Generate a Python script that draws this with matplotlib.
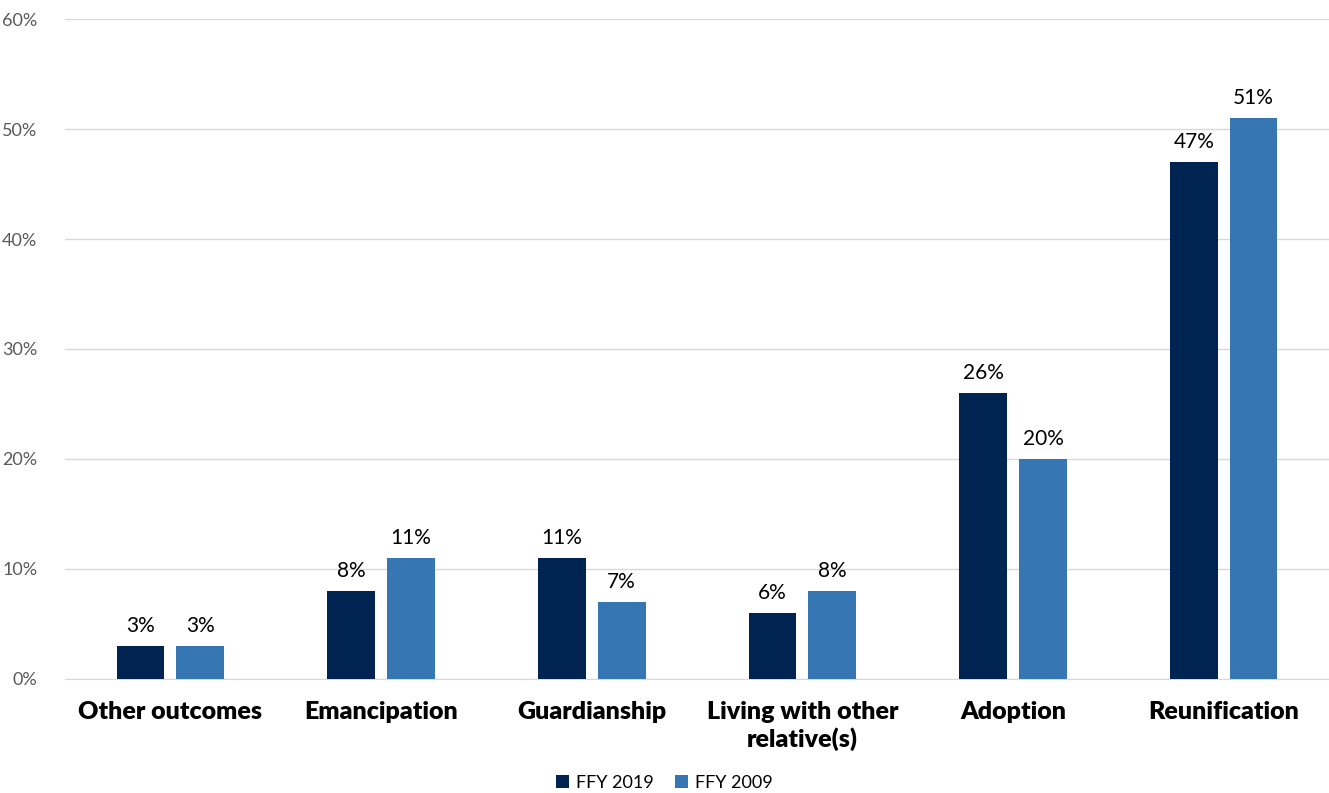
import numpy as np
import matplotlib.pyplot as plt

categories = ["Other outcomes", "Emancipation", "Guardianship",
              "Living with other\nrelative(s)", "Adoption", "Reunification"]
ffy2019 = [3, 8, 11, 6, 26, 47]
ffy2009 = [3, 11, 7, 8, 20, 51]

plt.rcParams['font.family'] = ['Lato', 'DejaVu Sans']

fig = plt.figure(figsize=(13.29, 7.93), dpi=100)
ax = fig.add_axes([0.049, 0.1438, 0.951, 0.8322])

x = np.arange(len(categories))
w = 0.227
off = 0.142
b1 = ax.bar(x - off, ffy2019, w, color='#002451', label='FFY 2019', zorder=3)
b2 = ax.bar(x + off, ffy2009, w, color='#3677B3', label='FFY 2009', zorder=3)

for bars, vals in [(b1, ffy2019), (b2, ffy2009)]:
    for b, v in zip(bars, vals):
        ax.text(b.get_x() + b.get_width() / 2, v + 0.9, f"{v}%",
                ha='center', va='bottom', fontsize=15, color='black')

ax.set_xlim(-0.5, 5.5)
ax.set_ylim(0, 60)
ax.set_yticks(range(0, 61, 10))
ax.set_yticklabels([f"{t}%" for t in range(0, 61, 10)], color='#595959', fontsize=13)
ax.yaxis.grid(True, color='#d9d9d9', linewidth=1, zorder=0)
ax.set_xticks(x)
ax.set_xticklabels(categories, fontsize=18, fontweight='heavy', color='black', va='top')
ax.tick_params(axis='both', length=0)
ax.tick_params(axis='x', pad=16)
ax.tick_params(axis='y', pad=20)
for s in ['top', 'right', 'left']:
    ax.spines[s].set_visible(False)
ax.spines['bottom'].set_color('#d9d9d9')

fig.legend(loc='lower center', ncol=2, frameon=False, fontsize=13,
           bbox_to_anchor=(0.5, -0.018), handlelength=0.7, handleheight=0.7,
           handletextpad=0.4, columnspacing=1.2)

fig.savefig('out.png', dpi=100)
